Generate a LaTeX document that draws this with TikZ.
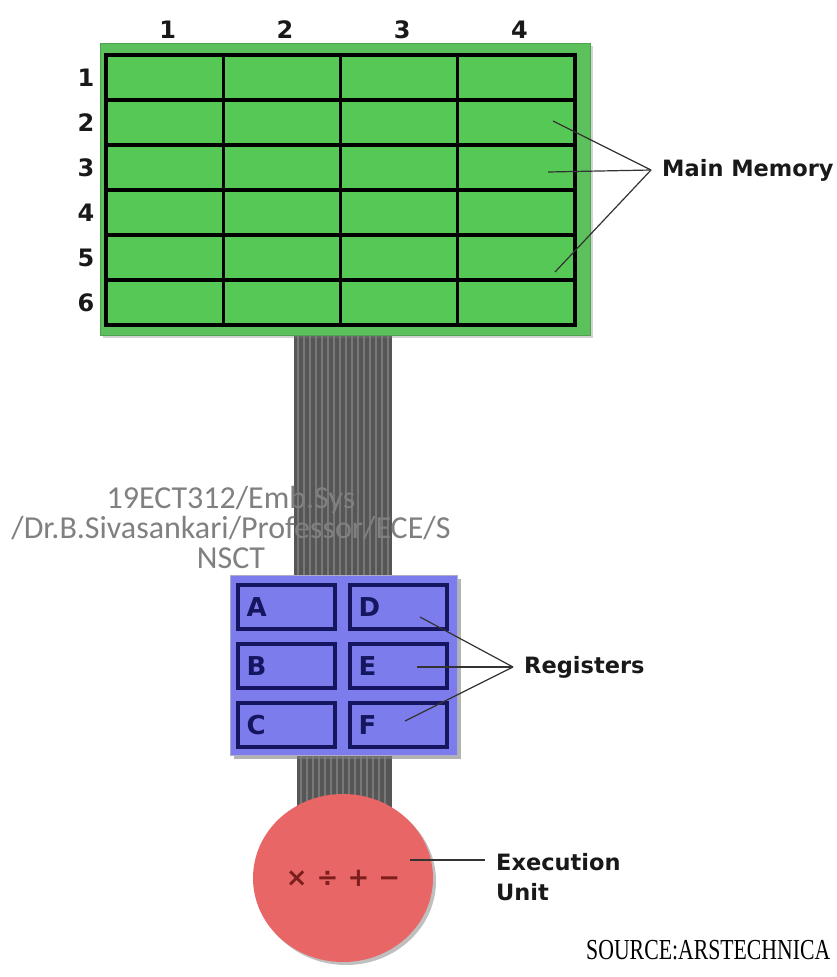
\documentclass[tikz,border=0pt]{standalone}
\usepackage{fontspec}
\setmainfont{DejaVu Sans}
\newfontfamily\wmfont{Carlito}
\newfontfamily\srcfont{Liberation Serif}
\usetikzlibrary{positioning,shapes.geometric,shadows}

\definecolor{memgreen}{RGB}{92,192,92}
\definecolor{cellgreen}{RGB}{86,200,86}
\definecolor{regblue}{RGB}{124,124,236}
\definecolor{regnavy}{RGB}{22,22,96}
\definecolor{eured}{RGB}{232,102,102}
\definecolor{opsred}{RGB}{125,30,30}
\definecolor{busgray}{RGB}{86,86,86}
\definecolor{stripegray}{RGB}{120,120,120}
\definecolor{wmgray}{RGB}{128,128,128}

\begin{document}
\begin{tikzpicture}[x=1pt, y=-1pt,
  memcell/.style = {draw = black, line width = 3.2pt, fill = cellgreen, minimum width = 117.25pt, minimum height = 45pt, inner sep = 0pt},
  idx/.style = {font = \fontsize{24}{26}\selectfont\bfseries, text = black!90},
  regbox/.style = {draw = regnavy, line width = 3.2pt, minimum width = 97pt, minimum height = 44pt, inner sep = 0pt, text width = 80pt, align = left, font = \fontsize{26}{26}\selectfont\bfseries, text = regnavy},
  tag/.style = {font = \fontsize{22.5}{30}\selectfont\bfseries, text = black!90, inner xsep = 11pt, anchor = west, align = left},
  ptr/.style = {line width = 1.2pt, black!80}]
\useasboundingbox (0,0) rectangle (836,977);

% data bus, drawn first
\fill[busgray] (294,330) rectangle (392,580);
\foreach \x in {298,304,...,390}
  \draw[stripegray, line width = 1.4pt] (\x,330) -- (\x,580);
\fill[busgray] (297,750) rectangle (392,812);
\foreach \x in {301,307,...,390}
  \draw[stripegray, line width = 1.4pt] (\x,750) -- (\x,812);

% main memory
\node[fill = memgreen, draw = memgreen!85!black, minimum width = 490pt, minimum height = 292pt, drop shadow = {shadow xshift = 3pt, shadow yshift = -3pt, opacity = 0.35}] (mem) at (345,189) {};
\foreach \r in {1,...,6}
  \foreach \c in {1,...,4}
    \node[memcell] (m-\r-\c) at ({106+117.25*(\c-0.5)},{55+45*(\r-0.5)}) {};
\foreach \c in {1,...,4}
  \node[idx] (col-\c) at ({109+117.25*(\c-0.5)},30) {\c};
\foreach \r in {1,...,6}
  \node[idx] (row-\r) at (86,{55+45*(\r-0.5)}) {\r};

\node[tag] (memlbl) at (651,170) {Main Memory};
\coordinate (mp-1) at (553,121);
\coordinate (mp-2) at (548,172);
\coordinate (mp-3) at (555,272);
\foreach \i in {1,2,3}
  \draw[ptr] (mp-\i) -- (memlbl.west);

% registers
\node[fill = regblue, draw = regnavy!35, minimum width = 227pt, minimum height = 180pt, drop shadow = {shadow xshift = 4pt, shadow yshift = -4pt, opacity = 0.6}] (regs) at (343.5,665) {};
\foreach \n/\x/\y in {A/286.5/607, B/286.5/666, C/286.5/725, D/398.5/607, E/398.5/666, F/398.5/725}
  \node[regbox] (reg\n) at (\x,\y) {\n};

\node[tag] (reglbl) at (513,667) {Registers};
\coordinate (rp-1) at (420,617);
\coordinate (rp-2) at (417,667);
\coordinate (rp-3) at (405,721);
\foreach \i in {1,2,3}
  \draw[ptr] (rp-\i) -- (reglbl.west);

% execution unit
\node[ellipse, fill = eured, minimum width = 180pt, minimum height = 168pt, drop shadow = {shadow xshift = 3pt, shadow yshift = -3pt, opacity = 0.5}, font = \fontsize{26}{26}\selectfont\bfseries, text = opsred] (eu) at (343,878) {× ÷ + −};
\node[tag] (eulbl) at (485,877) {Execution\\Unit};
\coordinate (eup) at (410,860);
\draw[ptr] (eup) -- (eup -| eulbl.west);

% footer and overlay text
\node[font = \srcfont\fontsize{29}{29}\selectfont, xscale = 0.75, anchor = east] (src) at (833,950) {SOURCE:ARSTECHNICA};
\node[font = \wmfont\fontsize{32}{30}\selectfont, text = wmgray, align = center] (wm) at (231,527) {19ECT312/Emb.Sys\\/Dr.B.Sivasankari/Professor/ECE/S\\NSCT};
\end{tikzpicture}
\end{document}
